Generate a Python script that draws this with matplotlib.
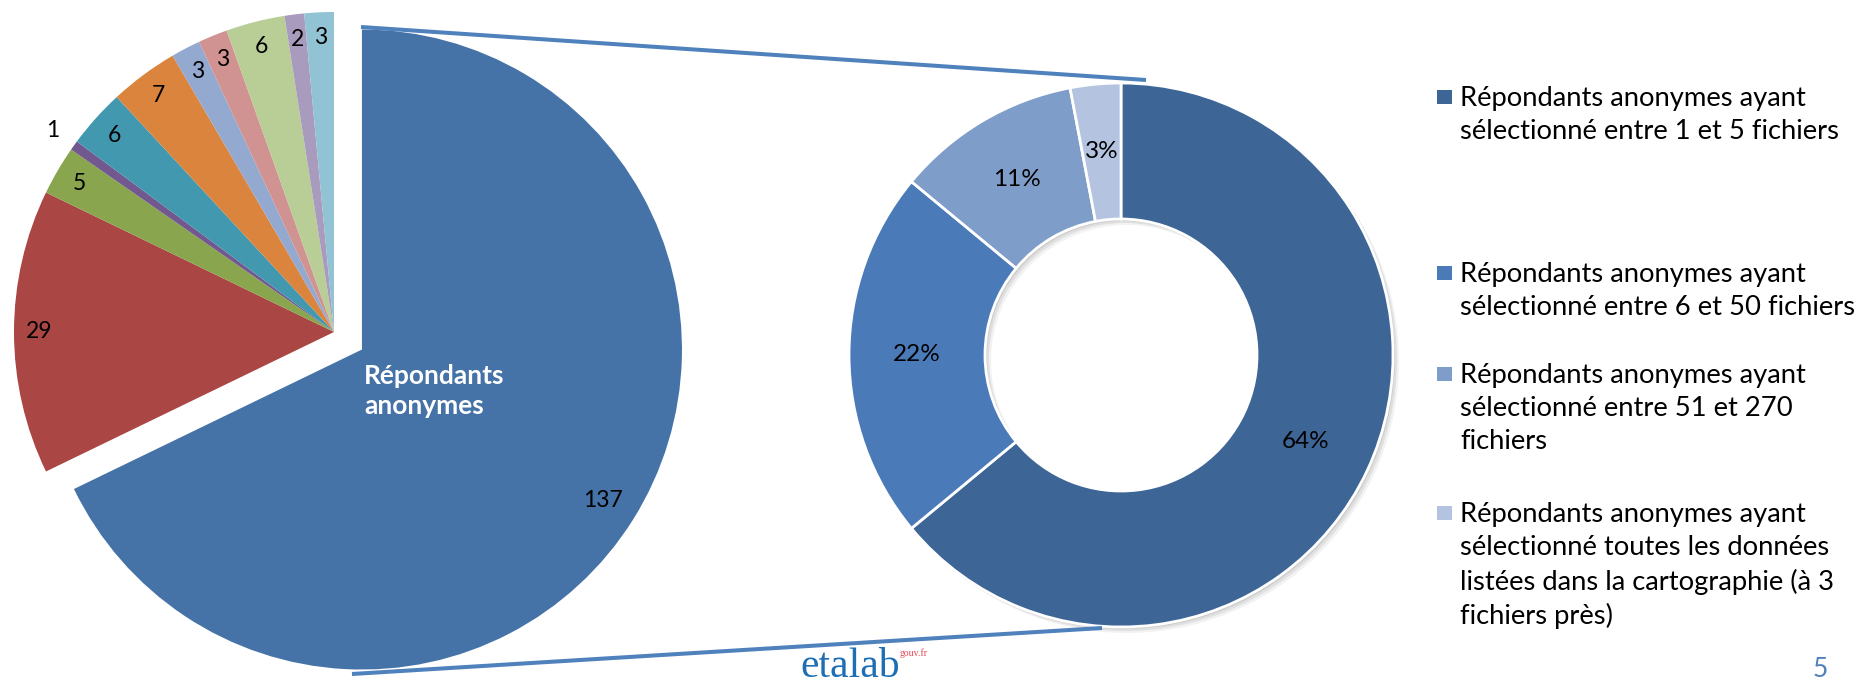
import numpy as np
import matplotlib.pyplot as plt
from matplotlib.patches import Rectangle, Wedge

plt.rcParams['font.family'] = ['Lato', 'DejaVu Sans']

# Répartition des répondants (effectifs)
counts = [137, 29, 5, 1, 6, 7, 3, 3, 6, 2, 3]
count_colors = ['#4572A7', '#AA4643', '#89A54E', '#71588F', '#4198AF',
                '#DB843D', '#93A9CF', '#D19392', '#B9CD96', '#A99BBD', '#92C3D4']
main_label = 'Répondants\nanonymes'

# Détail des répondants anonymes (%)
shares = [64, 22, 11, 3]
share_colors = ['#3D6596', '#4A7AB7', '#7F9DC9', '#B4C3DF']
share_labels = [
    'Répondants anonymes ayant\nsélectionné entre 1 et 5 fichiers',
    'Répondants anonymes ayant\nsélectionné entre 6 et 50 fichiers',
    'Répondants anonymes ayant\nsélectionné entre 51 et 270\nfichiers',
    'Répondants anonymes ayant\nsélectionné toutes les données\nlistées dans la cartographie (à 3\nfichiers près)',
]

W, H = 1854, 684
FS = 16.5        # slice values
FS_PCT = 17.5    # donut percentages
FS_LEG = 19.7    # legend


def Y(y):
    # pixel rows counted from the top
    return H - y


fig = plt.figure(figsize=(W / 100, H / 100), dpi=100)
ax = fig.add_axes([0, 0, 1, 1])

# --- left pie ---------------------------------------------------------------
pie_c = (334, Y(332))
pie_r = 320
wedges, _ = ax.pie(counts, colors=count_colors, startangle=90, counterclock=False,
                   center=pie_c, radius=pie_r, wedgeprops=dict(linewidth=0))

# pull the main slice out
blue = wedges[0]
th = np.deg2rad((blue.theta1 + blue.theta2) / 2)
blue.set_center((pie_c[0] + 33 * np.cos(th), pie_c[1] + 33 * np.sin(th)))

for w, n in zip(wedges, counts):
    th = np.deg2rad((w.theta1 + w.theta2) / 2)
    span = w.theta2 - w.theta1
    dist = 1.08 if span < 3 else (0.89 if span > 180 else 0.92)
    cx, cy = w.center
    ax.text(cx + dist * pie_r * np.cos(th), cy + dist * pie_r * np.sin(th), str(n),
            ha='center', va='center', fontsize=FS, color='black')

ax.text(364, Y(391), main_label, ha='left', va='center', fontsize=19,
        fontweight='bold', color='white', linespacing=1.35)

# --- donut ------------------------------------------------------------------
don_c = (1121, Y(355))
don_r = 272
ring = don_r * 0.5

# soft drop shadow under the ring
for k, a in zip([6, 4, 2], [0.05, 0.07, 0.09]):
    ax.add_patch(Wedge((don_c[0] + k, don_c[1] - k), don_r, 0, 360, width=ring,
                       facecolor='black', alpha=a, linewidth=0))

dwedges, _ = ax.pie(shares, colors=share_colors, startangle=90, counterclock=False,
                    center=don_c, radius=don_r,
                    wedgeprops=dict(width=ring, edgecolor='white', linewidth=2))
for w, p in zip(dwedges, shares):
    th = np.deg2rad((w.theta1 + w.theta2) / 2)
    d = don_r - ring / 2
    ax.text(don_c[0] + d * np.cos(th), don_c[1] + d * np.sin(th), f'{p}%',
            ha='center', va='center', fontsize=FS_PCT, color='black')

# connector lines between the two charts
ax.plot([361, 1146], [Y(27), Y(80)], color='#4F81BD', lw=2.9, solid_capstyle='butt')
ax.plot([352, 1102], [Y(674), Y(628)], color='#4F81BD', lw=2.9, solid_capstyle='butt')

# --- legend -----------------------------------------------------------------
legend_rows = [97, 273, 374, 513]
for lab, col, row in zip(share_labels, share_colors, legend_rows):
    ax.add_patch(Rectangle((1437, Y(row) - 7), 15, 14, facecolor=col, linewidth=0))
    ax.text(1460, Y(row) + 11, lab, ha='left', va='top', fontsize=FS_LEG,
            color='black', linespacing=1.4)

# footer
ax.text(800, Y(677), 'etalab', ha='left', va='baseline', fontsize=30,
        family='Liberation Serif', color='#1E6EB4')
ax.text(900, Y(656), 'gouv.fr', ha='left', va='baseline', fontsize=7,
        family='Liberation Serif', color='#E8475A')
ax.text(1820, Y(677), '5', ha='center', va='baseline', fontsize=19,
        color='#4F81BD')

ax.set_xlim(0, W)
ax.set_ylim(0, H)
ax.set_aspect('equal')
ax.axis('off')

fig.savefig('out.png', dpi=100)
